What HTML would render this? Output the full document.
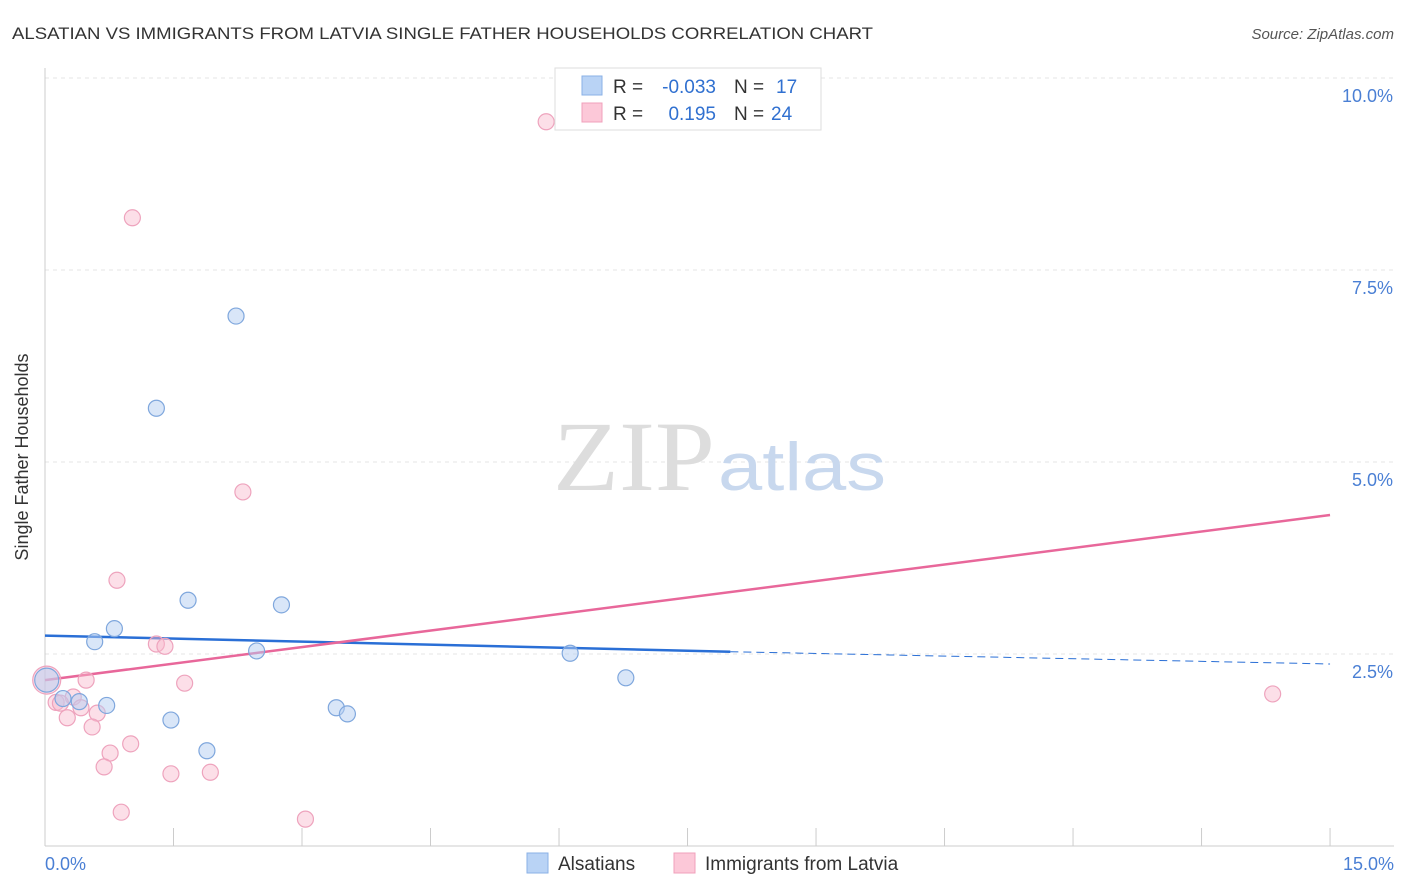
<!DOCTYPE html>
<html><head><meta charset="utf-8"><style>
body{margin:0;background:#fff;font-family:"Liberation Sans",sans-serif;}
svg{display:block}
</style></head><body>
<svg width="1406" height="892">
<text x="12" y="39" font-size="17" fill="#333" textLength="861" lengthAdjust="spacingAndGlyphs">ALSATIAN VS IMMIGRANTS FROM LATVIA SINGLE FATHER HOUSEHOLDS CORRELATION CHART</text>
<text x="1394" y="39" font-size="15" fill="#555" font-style="italic" text-anchor="end">Source: ZipAtlas.com</text>
<g id="grid"></g>
<line x1="45" y1="68" x2="45" y2="846" stroke="#ccc"/>
<line x1="45" y1="846" x2="1394" y2="846" stroke="#ccc"/>
<text x="28" y="457" font-size="18" fill="#333" text-anchor="middle" transform="rotate(-90 28 457)">Single Father Households</text>
<text x="553" y="490" font-size="100" fill="#ddd" font-family="Liberation Serif,serif" textLength="162" lengthAdjust="spacingAndGlyphs">ZIP</text>
<text x="718" y="490" font-size="68" fill="#c8d8ee" textLength="168" lengthAdjust="spacingAndGlyphs">atlas</text>
<g id="lines"></g>
<g id="pts"></g>
<text x="45" y="870" font-size="18" fill="#4a7fd4">0.0%</text>
<text x="1394" y="870" font-size="18" fill="#4a7fd4" text-anchor="end">15.0%</text>
<g font-size="19">
<rect x="555" y="68" width="266" height="62" fill="#fff" stroke="#ddd"/>
<rect x="582" y="76" width="20" height="19" fill="#b9d3f5" stroke="#8ab0e6"/>
<rect x="582" y="103" width="20" height="19" fill="#fcc8d8" stroke="#f0a0bb"/>
<text x="613" y="93" fill="#333">R =</text>
<text x="716" y="93" fill="#3070d0" text-anchor="end">-0.033</text>
<text x="734" y="93" fill="#333">N =</text>
<text x="776" y="93" fill="#3070d0">17</text>
<text x="613" y="120" fill="#333">R =</text>
<text x="716" y="120" fill="#3070d0" text-anchor="end">0.195</text>
<text x="734" y="120" fill="#333">N =</text>
<text x="771" y="120" fill="#3070d0">24</text>
</g>
<g>
<rect x="527" y="853" width="21" height="20" fill="#b9d3f5" stroke="#8ab0e6"/>
<text x="558" y="870" font-size="19" fill="#333">Alsatians</text>
<rect x="674" y="853" width="21" height="20" fill="#fcc8d8" stroke="#f0a0bb"/>
<text x="705" y="870" font-size="19" fill="#333">Immigrants from Latvia</text>
</g>
</svg>
<script>
const yTicks=[2.5,5.0,7.5,10.0];
const xTicks=[0,1.5,3,4.5,6,7.5,9,10.5,12,13.5,15];
const blueX=[2.23,1.3,1.67,2.76,0.81,0.58,2.47,6.13,6.78,0.21,0.72,0.40,3.40,3.53,1.47,1.89,0.02];
const blueY=[6.9,5.7,3.2,3.14,2.83,2.66,2.54,2.51,2.19,1.92,1.83,1.88,1.80,1.72,1.64,1.24,2.16];
const pinkX=[5.85,1.02,2.31,0.84,1.3,1.4,0.48,1.63,0.33,0.13,0.18,0.42,0.61,0.26,0.55,1.0,0.76,0.69,1.47,1.93,0.89,3.04,14.33,0.02];
const pinkY=[9.43,8.18,4.61,3.46,2.63,2.6,2.16,2.12,1.94,1.87,1.86,1.8,1.73,1.67,1.55,1.33,1.21,1.03,0.94,0.96,0.44,0.35,1.98,2.16];
const blueLine=[2.74,2.53,2.37];const pinkLine=[2.16,4.31];
const X=v=>45+v*85.67, Y=v=>846-v*76.8;
const ns="http://www.w3.org/2000/svg";
function mk(t,a,p){const e=document.createElementNS(ns,t);for(const k in a)e.setAttribute(k,a[k]);document.getElementById(p).appendChild(e);return e;}
yTicks.forEach(t=>{
const l=mk('line',{x1:45,x2:1394,y1:Y(t),y2:Y(t),stroke:'#e4e4e4','stroke-dasharray':'4,4'},'grid');


const tx=mk('text',{x:1393,y:Y(t)+24,'font-size':18,fill:'#4a7fd4','text-anchor':'end'},'grid');
tx.textContent=t.toFixed(1)+'%';


});
xTicks.forEach(t=>{
const l=mk('line',{x1:X(t),x2:X(t),y1:828,y2:846,stroke:'#ccc'},'grid');


});
let l1=mk('line',{x1:X(0),y1:Y(blueLine[0]),x2:X(8.0),y2:Y(blueLine[1]),stroke:'#2a6fd6','stroke-width':2.5},'lines');


let l2=mk('line',{x1:X(8.0),y1:Y(blueLine[1]),x2:X(15),y2:Y(blueLine[2]),stroke:'#2a6fd6','stroke-width':1,'stroke-dasharray':'8,5'},'lines');


let l3=mk('line',{x1:X(0),y1:Y(pinkLine[0]),x2:X(15),y2:Y(pinkLine[1]),stroke:'#e8679a','stroke-width':2.5},'lines');


pinkX.forEach((v,i)=>{
const c=mk('circle',{cx:X(v),cy:Y(pinkY[i]),r:i==23?14:8,fill:'rgba(248,185,205,0.45)',stroke:'#eea3bd','stroke-width':1.2},'pts');


});
blueX.forEach((v,i)=>{
const c=mk('circle',{cx:X(v),cy:Y(blueY[i]),r:i==16?12:8,fill:'rgba(180,206,242,0.5)',stroke:'#7fa7dd','stroke-width':1.2},'pts');


});
</script>
</body></html>
